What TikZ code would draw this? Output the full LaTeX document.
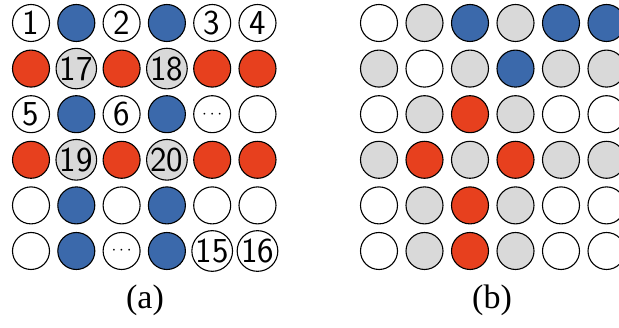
\documentclass[tikz,border=0pt]{standalone}
\usepackage{fontspec}
\setmainfont{Liberation Serif}
\usetikzlibrary{positioning}
\definecolor{dotBlue}{RGB}{59,105,171}
\definecolor{dotRed}{RGB}{231,64,30}
\definecolor{dotGray}{RGB}{217,217,217}
\newcommand{\moredots}{{\fontsize{17}{17}\selectfont$\cdots$}}

\begin{document}
\begin{tikzpicture}[
  x=1pt,y=-1pt,
  dot/.style={
    circle,
    draw,
    line width=1.1pt,
    minimum size=37pt,
    inner sep=0pt,
    font=\fontspec{Latin Modern Sans}\fontsize{35}{35}\selectfont
  },
  W/.style={dot,fill=white},
  B/.style={dot,fill=dotBlue},
  R/.style={dot,fill=dotRed},
  G/.style={dot,fill=dotGray},
  caption/.style={font=\fontsize{34}{36}\selectfont}
]
  \useasboundingbox (0,0) rectangle (619,328);
  \clip (0,0) rectangle (619,328);
  % panel (a)
  \foreach \row [count=\j from 0] in {
      {W/1,B/,W/2,B/,W/3,W/4},
      {R/,G/17,R/,G/18,R/,R/},
      {W/5,B/,W/6,B/,W/\moredots,W/},
      {R/,G/19,R/,G/20,R/,R/},
      {W/,B/,W/,B/,W/,W/},
      {W/,B/,W/\moredots,B/,W/15,W/16}}
    \foreach \kind/\txt [count=\i from 0] in \row
      \node[\kind] (a-\j-\i) at (31+45.3*\i,23+45.6*\j) {\txt};
  % panel (b)
  \foreach \row [count=\j from 0] in {
      {W,G,B,G,B,B},
      {G,W,G,B,G,G},
      {W,G,R,G,W,W},
      {G,R,G,R,G,G},
      {W,G,R,G,W,W},
      {W,G,R,G,W,W}}
    \foreach \kind [count=\i from 0] in \row
      \node[\kind] (b-\j-\i) at (379+45.5*\i,23+45.6*\j) {};
  \node[caption] (capA) at (145,300) {(a)};
  \node[caption] (capB) at (492,300) {(b)};
\end{tikzpicture}
\end{document}
